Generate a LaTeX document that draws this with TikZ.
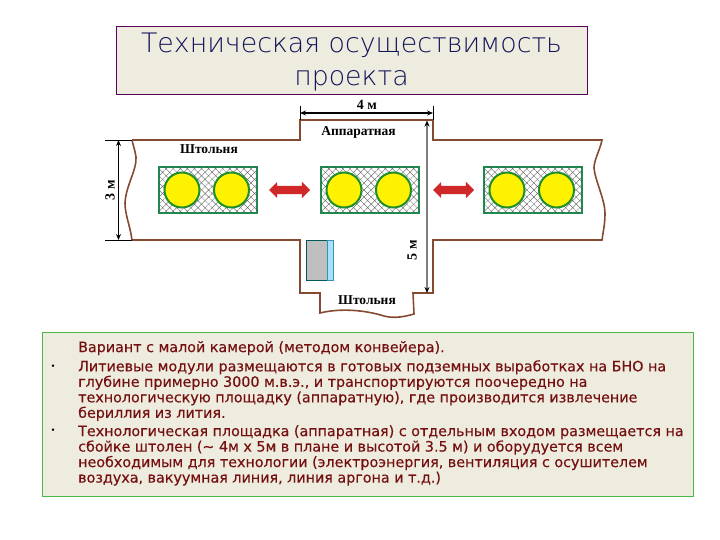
\documentclass[tikz,border=0pt]{standalone}
\usepackage{fontspec}
\setmainfont{Liberation Serif}
\newfontfamily\titlefont{DejaVu Sans ExtraLight}
\newfontfamily\notefont[FakeBold=0.25]{DejaVu Sans}
\usetikzlibrary{patterns.meta,shapes.arrows,arrows.meta}

\definecolor{wall}{HTML}{854A32}
\definecolor{modgreen}{HTML}{1E8A50}
\definecolor{ringgreen}{HTML}{1F8E2C}
\definecolor{linen}{HTML}{EEEBDF}
\definecolor{notered}{HTML}{741010}
\definecolor{shiftred}{HTML}{D02828}
\definecolor{titleblue}{HTML}{14145A}

\tikzset{
    dimline/.style={line width=1.2pt,{Stealth[black,length=6pt,width=5pt]}-{Stealth[black,length=6pt,width=5pt]}},
    dimtick/.style={black,line width=.6pt},
    dimlabel/.style={font=\bfseries\fontsize{14}{14}\selectfont},
    roomlabel/.style={font=\bfseries\fontsize{13.5}{14}\selectfont},
    modbox/.style={draw=modgreen,line width=2.2pt,pattern={Lines[angle=45,distance=5pt,line width=.3pt]},pattern color=black!70,
        postaction={pattern={Lines[angle=-45,distance=5pt,line width=.3pt]},pattern color=black!70},
        minimum width=98pt,minimum height=46pt,inner sep=0pt},
    cell/.style={circle,draw=ringgreen,line width=2pt,fill=yellow,minimum size=35pt,inner sep=0pt},
    shiftarrow/.style={double arrow,fill=shiftred,draw=none,text height=4pt,text depth=4pt,text width=0pt,minimum width=0pt,minimum height=41pt,double arrow head extend=4pt,inner sep=0pt},
    notetext/.style={anchor=north west,align=left,inner sep=0pt,text=notered,font=\notefont\fontsize{14.3}{15.5}\selectfont},
    dotmark/.style={text=black,font=\fontsize{10}{10}\selectfont},
}

\begin{document}
\begin{tikzpicture}[x=1pt,y=-1pt]
    \useasboundingbox (0,0) rectangle (720,540);

    \node [draw=violet!70!black,fill=linen,minimum width=471pt,minimum height=68pt] (titlebox) at (351.5,60) {};
    \node [align=center,text=titleblue,font=\titlefont\fontsize{26.8}{33}\selectfont] (title) at (351.5,62) {Техническая осуществимость\\проекта};

    \draw [wall,line width=1.6pt] (132,140) -- (300,140) -- (300,120) -- (433,120) -- (433,140) -- (602,140)
        .. controls (600,150) and (594,160) .. (594,168)
        .. controls (595,180) and (605,200) .. (605,213)
        .. controls (605,225) and (603,232) .. (602,240)
        -- (433,240) -- (433,293) -- (413,293) -- (414,314)
        .. controls (400,318) and (392,318) .. (384,316)
        .. controls (365,310) and (340,308) .. (320,313)
        -- (320,293) -- (300,293) -- (300,240) -- (132,240)
        .. controls (130,225) and (125,215) .. (125,203)
        .. controls (126,185) and (137,170) .. (136,157)
        .. controls (135,150) and (133,145) .. (132,140);

    \coordinate (wa) at (300,120);
    \coordinate (wb) at (433,120);
    \coordinate (wc) at (132,140);
    \coordinate (wd) at (132,240);
    \coordinate (ta) at (300,106);
    \coordinate (tb) at (433,106);
    \coordinate (tc) at (105,140);
    \coordinate (td) at (105,240);
    \coordinate (fa) at (300,113);
    \coordinate (fb) at (433,113);
    \coordinate (ha) at (118.5,140);
    \coordinate (hb) at (118.5,240);
    \coordinate (va) at (427,120.5);
    \coordinate (vb) at (427,293);

    \draw [dimtick] (ta) -- (wa);
    \draw [dimtick] (tb) -- (wb);
    \draw [dimtick] (tc) -- (wc);
    \draw [dimtick] (td) -- (wd);
    \draw [dimline] (fa) -- (fb);
    \draw [dimline] (ha) -- (hb);
    \draw [dimline,draw=black!50] (va) -- (vb);

    \node [dimlabel] (width) at (367,105) {4 м};
    \node [dimlabel,rotate=90] (shaft) at (110,190) {3 м};
    \node [dimlabel,rotate=90] (depth) at (412,250) {5 м};

    \node [roomlabel] (control) at (358.5,132) {Аппаратная};
    \node [roomlabel] (adita) at (209,149) {Штольня};
    \node [roomlabel] (aditb) at (367,300) {Штольня};

    \foreach \x in {158,320,483}{
        \node [modbox] (mod\x) at (\x+50,190) {};
        \node [cell] (cell\x a) at (\x+24,190) {};
        \node [cell] (cell\x b) at (\x+73.5,190) {};
    }

    \node [shiftarrow] (shifta) at (289.5,190) {};
    \node [shiftarrow] (shiftb) at (453.5,190) {};

    \path [fill=black!25,draw=teal!70!black] (306,240) rectangle (327,280);
    \path [fill=cyan!35,draw=cyan!70!black] (327,240) rectangle (333,280);

    \node [draw=green!60!black!70,fill=linen,line width=1pt,minimum width=651pt,minimum height=164pt] (notes) at (368,414.5) {};

    \node [notetext] (lead) at (78,341) {Вариант с малой камерой (методом конвейера).};
    \node [notetext] (parta) at (78,360) {Литиевые модули размещаются в готовых подземных выработках на БНО на\\глубине примерно 3000 м.в.э., и транспортируются поочередно на\\технологическую площадку (аппаратную), где производится извлечение\\бериллия из лития.};
    \node [notetext] (partb) at (78,425) {Технологическая площадка (аппаратная) с отдельным входом размещается на\\сбойке штолен (\textasciitilde{} 4м х 5м в плане и высотой 3.5 м) и оборудуется всем\\необходимым для технологии (электроэнергия, вентиляция с осушителем\\воздуха, вакуумная линия, линия аргона и т.д.)};

    \node [dotmark] (dota) at (53,367) {•};
    \node [dotmark] (dotb) at (53,431) {•};
\end{tikzpicture}
\end{document}
